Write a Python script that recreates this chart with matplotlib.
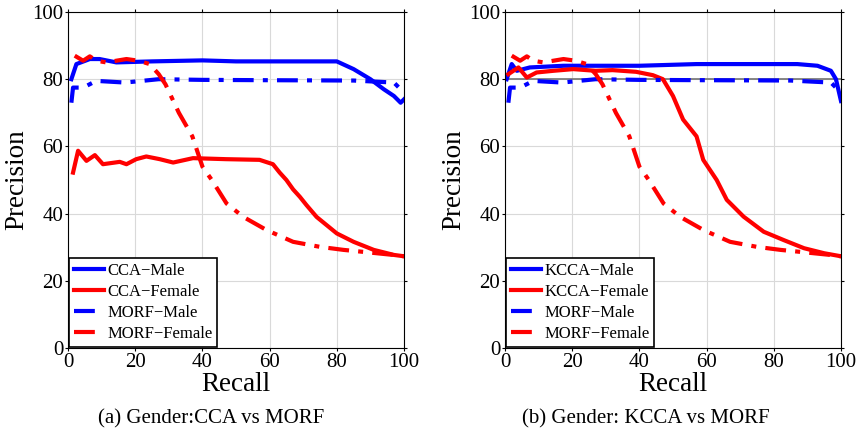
import matplotlib
matplotlib.use("Agg")
import matplotlib.pyplot as plt

plt.rcParams['font.family'] = ['Liberation Serif', 'DejaVu Serif']
plt.rcParams['mathtext.fontset'] = 'stix'

# ---- data ----
cca_male_x = [1, 2.5, 6.5, 9.4, 14.4, 25, 40, 50, 60, 70, 80, 85, 90, 94, 97, 99, 100]
cca_male_y = [80, 84.5, 86, 86, 85, 85.3, 85.6, 85.3, 85.3, 85.3, 85.3, 83, 80, 77, 75, 73, 74]

cca_female_x = [1.5, 3, 5.5, 8, 10.4, 15.4, 17.4, 20.3, 23.3, 27.3, 31.3, 37.2, 47, 57, 61, 63,
                65, 67, 69, 71, 74, 80, 85, 91, 97, 100]
cca_female_y = [52.2, 58.7, 55.7, 57.4, 54.7, 55.4, 54.7, 56.2, 57, 56.2, 55.2, 56.5, 56.2, 56,
                54.7, 52.2, 50, 47.2, 45, 42.5, 39, 34.1, 31.6, 29.2, 27.7, 27.3]

kcca_male_x = [0.5, 2, 3.5, 7.4, 17.4, 27, 40, 57, 77, 87, 93, 97, 98.5, 100]
kcca_male_y = [80, 84.5, 82.5, 83.5, 84, 84, 84, 84.5, 84.5, 84.5, 84, 82.5, 80, 73.5]

kcca_female_x = [1, 4, 6.5, 9.4, 14.4, 20.3, 27, 32, 39, 44, 47, 50, 53, 57, 59, 63, 66, 71,
                 77, 83, 89, 95, 100]
kcca_female_y = [81.5, 83.5, 80.5, 82, 82.5, 83, 82.5, 82.7, 82.2, 81.2, 80, 75, 68, 63, 56,
                 50, 44.1, 39.1, 34.6, 32.1, 29.7, 28.2, 27.3]

morf_male_x = [1, 1.5, 3.5, 5.5, 8.4, 17, 27, 40, 60, 85, 97, 99, 100]
morf_male_y = [73, 77.5, 77.5, 78, 79.5, 79, 80, 79.8, 79.7, 79.6, 79, 77, 76.5]

morf_female_x = [2, 4.5, 6.5, 8.4, 11.4, 17.4, 21, 24.3, 27, 29, 33, 37, 40, 42.8, 47.2, 52.2,
                 59.1, 67, 75, 82, 87, 91.9, 96.8, 100]
morf_female_y = [87, 85.5, 86.8, 85.5, 85, 86, 85.5, 84.5, 81.5, 78.5, 70, 63, 54, 50, 43, 39,
                 35.1, 31.6, 30.1, 29.2, 28.7, 28.2, 27.7, 27.3]

ticks = [0, 20, 40, 60, 80, 100]
panels = [
    ("CCA", cca_male_x, cca_male_y, cca_female_x, cca_female_y, "(a) Gender:CCA vs MORF"),
    ("KCCA", kcca_male_x, kcca_male_y, kcca_female_x, kcca_female_y, "(b) Gender: KCCA vs MORF"),
]

fig = plt.figure(figsize=(8.58, 4.33), dpi=100)
lefts = [68 / 858, 505 / 858]
caption_x = [211 / 858, 646 / 858]
dd = (5, 2.2, 1.2, 2.2)

for i, (name, mx, my, fx, fy, caption) in enumerate(panels):
    ax = fig.add_axes([lefts[i], 85 / 433, 336 / 858, 336 / 433])
    ax.plot(mx, my, color='blue', lw=3, label=name + '\u2212Male')
    ax.plot(fx, fy, color='red', lw=3, label=name + '\u2212Female')
    ax.plot(morf_male_x, morf_male_y, color='blue', lw=3, dashes=dd, label='MORF\u2212Male')
    ax.plot(morf_female_x, morf_female_y, color='red', lw=3, dashes=dd, label='MORF\u2212Female')
    if i == 1:
        ax.axhline(80, color='0.45', lw=1.2, zorder=1)

    ax.set_xlim(0, 100)
    ax.set_ylim(0, 100)
    ax.set_xticks(ticks)
    ax.set_yticks(ticks)
    ax.grid(True, color='0.85', lw=0.8)
    ax.set_axisbelow(True)
    ax.tick_params(direction='out', top=True, right=True, labelsize=15, length=2.5, pad=1)
    for sp in ax.spines.values():
        sp.set_linewidth(0.8)
    ax.set_xlabel('Recall', fontsize=19.5, labelpad=0)
    ax.set_ylabel('Precision', fontsize=19.5, labelpad=2)

    leg = ax.legend(loc='lower left', fontsize=12, handlelength=1.8, handletextpad=0.2,
                    borderaxespad=0.05, borderpad=0.3, labelspacing=0.3, fancybox=False,
                    framealpha=1, edgecolor='black')
    leg.get_frame().set_linewidth(1.2)

    fig.text(caption_x[i], 1 - 419 / 433, caption, fontsize=15, ha='center', va='center')

fig.savefig('out.png', dpi=100)
